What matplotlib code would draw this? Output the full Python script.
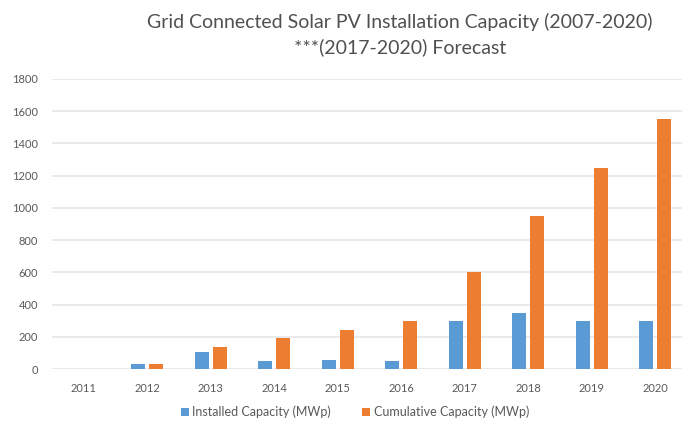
import matplotlib
matplotlib.use("Agg")
import matplotlib.pyplot as plt
import numpy as np

# Chart data
years = ['2011', '2012', '2013', '2014', '2015', '2016', '2017', '2018', '2019', '2020']
installed = [0, 30, 105, 50, 55, 50, 300, 350, 300, 300]
cumulative = [0, 30, 135, 190, 245, 300, 600, 950, 1250, 1550]

blue = '#5B9BD5'
orange = '#ED7D31'
grey_text = '#595959'

plt.rcParams['font.family'] = ['Lato', 'DejaVu Sans']

fig = plt.figure(figsize=(6.82, 4.25), dpi=100)
fig.patch.set_facecolor('white')
ax = fig.add_axes([52 / 682, 56 / 425, 635 / 682, 290 / 425])

x = np.arange(len(years))
w = 0.22
gap = 0.06
ax.bar(x - (w + gap) / 2, installed, width=w, color=blue, label='Installed Capacity (MWp)', zorder=3)
ax.bar(x + (w + gap) / 2, cumulative, width=w, color=orange, label='Cumulative Capacity (MWp)', zorder=3)

ax.set_xlim(-0.5, len(years) - 0.5)
ax.set_ylim(0, 1800)
ax.set_yticks(range(0, 1801, 200))
ax.set_xticks(x)
ax.set_xticklabels(years)
ax.tick_params(axis='both', length=0, labelsize=8, colors=grey_text)
ax.tick_params(axis='x', pad=10)
ax.tick_params(axis='y', pad=10)
ax.grid(axis='y', color='#E6E6E6', linewidth=1.2, zorder=0)
for s in ax.spines.values():
    s.set_visible(False)

fig.text(400 / 682, 1 - 22 / 425, 'Grid Connected Solar PV Installation Capacity (2007-2020)',
         ha='center', va='center', fontsize=14, color='#505050')
fig.text(400 / 682, 1 - 47 / 425, '***(2017-2020) Forecast',
         ha='center', va='center', fontsize=14, color='#505050')

fig.legend(loc='center', bbox_to_anchor=(355 / 682, 1 - 412 / 425), ncol=2, frameon=False,
           fontsize=9, labelcolor=grey_text, handlelength=0.6, handleheight=0.6,
           handletextpad=0.3, columnspacing=2.5)

fig.savefig('out.png', dpi=100, facecolor='white')
